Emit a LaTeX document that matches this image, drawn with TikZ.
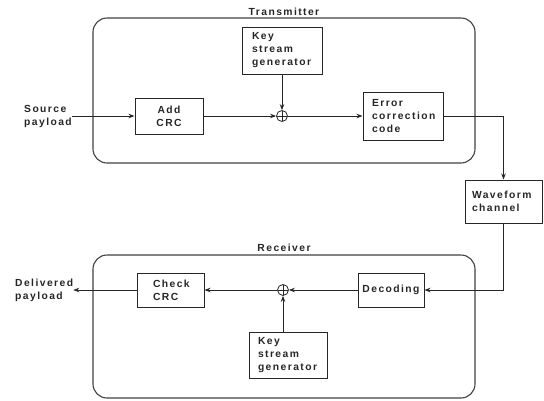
\documentclass[tikz,border=0pt]{standalone}
\usepackage{fontspec}
\setmainfont{Liberation Sans}[LetterSpace=14]
\usetikzlibrary{arrows.meta}

\begin{document}
\begin{tikzpicture}[x=1pt, y=-1pt,
  lbl/.style={font=\fontsize{10.3}{13}\selectfont\bfseries, align=left, inner sep=0pt, text=black!85},
  box/.style={draw=black!85, line width=1pt, lbl, inner ysep=0pt},
  group/.style={draw=black!75, line width=1.1pt, rounded corners=14pt},
  xorc/.style={circle, draw=black!85, line width=0.8pt, minimum size=11pt, inner sep=0pt,
    path picture={\draw[line width=0.8pt, black!85]
      (path picture bounding box.north) -- (path picture bounding box.south)
      (path picture bounding box.west) -- (path picture bounding box.east);}},
  flow/.style={-{Stealth[length=6pt,width=4.5pt]}, line width=0.8pt, draw=black!85}]
\useasboundingbox (0,0) rectangle (544,400);

% enclosing groups
\draw[group] (93,18) rectangle (475,163);
\node[lbl, anchor=center] (txlabel) at (284,12) {Transmitter};
\draw[group] (93,255) rectangle (475,398);
\node[lbl, anchor=center] (rxlabel) at (284,248) {Receiver};

% transmitter chain
\node[lbl, anchor=west] (src) at (24,116) {Source\\payload};
\node[box, minimum width=68pt, minimum height=36pt, text width=48pt, inner xsep=10pt, align=center] (add) at (169,116) {Add\\CRC};
\node[box, minimum height=47pt, text width=60pt, inner xsep=10pt] (keyT) at (282,50.5) {Key\\stream\\generator};
\node[xorc] (xorT) at (282,116) {};
\node[box, minimum height=48pt, text width=62pt, inner xsep=9pt] (ecc) at (403,116) {Error\\correction\\code};

% channel
\node[box, minimum height=43pt, text width=63pt, inner xsep=7pt] (wave) at (503.5,201.5) {Waveform\\channel};

% receiver chain
\node[box, minimum height=34pt, text width=60pt, inner xsep=3pt, align=center] (dec) at (391,290) {Decoding};
\node[xorc] (xorR) at (283,290) {};
\node[box, minimum height=46pt, text width=60pt, inner xsep=9pt] (keyR) at (288,355) {Key\\stream\\generator};
\node[box, minimum height=34pt, text width=35pt, inner xsep=16pt] (check) at (170.5,290) {Check\\CRC};
\node[lbl, anchor=west] (dst) at (15,290) {Delivered\\payload};

% connectors
\draw[flow] (src.east) -- (add.west);
\draw[flow] (add.east) -- (xorT.west);
\draw[flow] (keyT.south) -- (xorT.north);
\draw[flow] (xorT.east) -- (ecc.west);
\draw[flow] (ecc.east) -| (wave.north);
\draw[flow] (wave.south) |- (dec.east);
\draw[flow] (dec.west) -- (xorR.east);
\draw[flow] (keyR.north -| xorR.south) -- (xorR.south);
\draw[flow] (xorR.west) -- (check.east);
\draw[flow] (check.west) -- (dst.east);
\end{tikzpicture}
\end{document}
